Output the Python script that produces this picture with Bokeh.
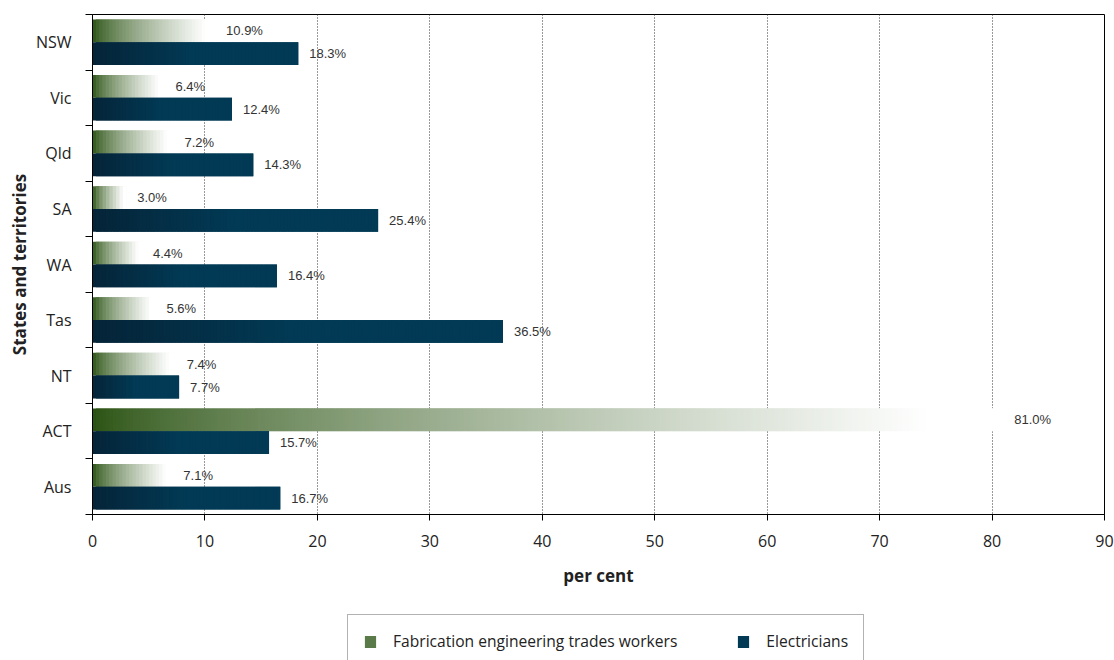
import math
from bokeh.plotting import figure
from bokeh.layouts import column
from bokeh.models import (ColumnDataSource, Range1d, FixedTicker, Legend, LegendItem)
from bokeh.core.properties import value
from bokeh.embed import file_html
from bokeh.resources import INLINE

# ---- data ----
categories = ["NSW", "Vic", "Qld", "SA", "WA", "Tas", "NT", "ACT", "Aus"]
fabrication = [10.9, 6.4, 7.2, 3.0, 4.4, 5.6, 7.4, 81.0, 7.1]
electricians = [18.3, 12.4, 14.3, 25.4, 16.4, 36.5, 7.7, 15.7, 16.7]
x_ticks = [0, 10, 20, 30, 40, 50, 60, 70, 80, 90]
series_names = ["Fabrication engineering trades workers", "Electricians"]

# ---- style ----
FONT = "Open Sans"
LABEL_FONT = "Liberation Sans"
TEXT = "#222222"
GREEN_DARK = (39, 80, 15)
WHITE = (255, 255, 255)
NAVY_DARK = (5, 36, 56)
NAVY = (2, 58, 85)
SEG_W = 0.3          # gradient step width in data units
BAR_H = 0.41
OFF = 0.205


def hexc(c):
    return "#%02x%02x%02x" % tuple(int(round(v)) for v in c)


def mix(a, b, t):
    return tuple(a[k] + (b[k] - a[k]) * t for k in range(3))


def green_color(f):
    t = min(1.0, f / 0.92) ** 0.7
    return hexc(mix(GREEN_DARK, WHITE, t))


def navy_color(f):
    t = min(1.0, f / 0.5)
    return hexc(mix(NAVY_DARK, NAVY, t))


def gradient_source(vals, yoff, colfn):
    # overlapping steps (each reaches to the end of the next one) to avoid seams
    d = dict(left=[], right=[], top=[], bottom=[], color=[], frac=[])
    for i, v in enumerate(vals):
        yc = i + yoff
        n = max(4, int(math.ceil(v / SEG_W)))
        for s in range(n):
            f = (s + 0.5) / n
            d["left"].append(v * s / n)
            d["right"].append(v * min(s + 2, n) / n)
            d["bottom"].append(yc - BAR_H / 2)
            d["top"].append(yc + BAR_H / 2)
            d["color"].append(colfn(f))
            d["frac"].append(f)
    return ColumnDataSource(d)


p = figure(width=1114, height=600, output_backend="svg", toolbar_location=None,
           x_range=Range1d(0, 90), y_range=Range1d(len(categories) - 0.5, -0.5),
           min_border_left=92, min_border_right=10, min_border_top=14,
           min_border_bottom=86)
p.background_fill_color = "white"
p.border_fill_color = "white"
p.outline_line_color = "black"
p.outline_line_width = 1
p.outline_line_alpha = 1

gsrc = gradient_source(fabrication, -OFF, green_color)
esrc = gradient_source(electricians, OFF, navy_color)

gr = p.quad(left="left", right="right", top="top", bottom="bottom", source=gsrc,
            fill_color="color", line_color=None)
er = p.quad(left="left", right="right", top="top", bottom="bottom", source=esrc,
            fill_color="color", line_color=None)

# value labels
lab = ColumnDataSource(dict(
    x=fabrication + electricians,
    y=[i - OFF for i in range(len(categories))] + [i + OFF for i in range(len(categories))],
    text=["%.1f%%" % v for v in fabrication] + ["%.1f%%" % v for v in electricians],
))
p.text(x="x", y="y", text="text", source=lab, x_offset=11, text_baseline="middle",
       text_align="left", text_font=value(LABEL_FONT), text_font_size="13px",
       text_color="#333333")

# x axis
p.xaxis.ticker = FixedTicker(ticks=x_ticks)
p.xaxis.axis_label = "per cent"
p.xaxis.axis_label_text_font = FONT
p.xaxis.axis_label_text_font_style = "bold"
p.xaxis.axis_label_text_font_size = "17px"
p.xaxis.axis_label_text_color = TEXT
p.xaxis.axis_label_standoff = 14
p.xaxis.major_label_text_font = FONT
p.xaxis.major_label_text_font_size = "16px"
p.xaxis.major_label_text_color = TEXT
p.xaxis.major_label_standoff = 14
p.xaxis.major_tick_out = 6
p.xaxis.major_tick_in = 0
p.xaxis.minor_tick_out = 0
p.xaxis.minor_tick_in = 0
p.xaxis.axis_line_color = "black"
p.xaxis.major_tick_line_color = "black"

# y axis
p.yaxis.ticker = FixedTicker(ticks=list(range(len(categories))),
                             minor_ticks=[i - 0.5 for i in range(len(categories) + 1)])
p.yaxis.major_label_overrides = {i: c for i, c in enumerate(categories)}
p.yaxis.axis_label = "States and territories"
p.yaxis.axis_label_text_font = FONT
p.yaxis.axis_label_text_font_style = "bold"
p.yaxis.axis_label_text_font_size = "17px"
p.yaxis.axis_label_text_color = TEXT
p.yaxis.axis_label_standoff = 2
p.yaxis.major_label_text_font = FONT
p.yaxis.major_label_text_font_size = "16px"
p.yaxis.major_label_text_color = TEXT
p.yaxis.major_label_standoff = 14
p.yaxis.major_tick_out = 0
p.yaxis.major_tick_in = 0
p.yaxis.minor_tick_out = 7
p.yaxis.minor_tick_in = 0
p.yaxis.minor_tick_line_color = "black"
p.yaxis.axis_line_color = "black"

# grids
p.xgrid.ticker = FixedTicker(ticks=x_ticks[1:-1])
p.xgrid.grid_line_color = "#333333"
p.xgrid.grid_line_dash = "1 2"
p.xgrid.grid_line_width = 1
p.ygrid.grid_line_color = None

# ---- legend strip (separate figure below the chart; its frame is aligned with the chart's) ----
pl = figure(width=1114, height=60, output_backend="svg", toolbar_location=None,
            x_range=Range1d(-2, -1), y_range=Range1d(-2, -1),
            x_axis_type=None, y_axis_type=None,
            min_border_left=92, min_border_right=10, min_border_top=0, min_border_bottom=0)
pl.outline_line_color = None
pl.grid.visible = False
pl.background_fill_color = "white"
pl.border_fill_color = "white"
# same bar sources, outside the strip's visible ranges: only used for legend swatches
lg_green = pl.quad(left="left", right="right", top="top", bottom="bottom", source=gsrc,
                   fill_color="color", line_color=None)
lg_navy = pl.quad(left="left", right="right", top="top", bottom="bottom", source=esrc,
                  fill_color="color", line_color=None)

g_idx = next(k for k, f in enumerate(gsrc.data["frac"]) if f >= 0.12)
e_idx = next(k for k, f in enumerate(esrc.data["frac"]) if f >= 0.6)

legend = Legend(items=[
    LegendItem(label=series_names[0], renderers=[lg_green], index=g_idx),
    LegendItem(label=series_names[1], renderers=[lg_navy], index=e_idx),
], orientation="horizontal", location=(255, -8))
legend.border_line_color = "#666666"
legend.border_line_width = 1
legend.background_fill_color = "white"
legend.background_fill_alpha = 1
legend.label_text_font = FONT
legend.label_text_font_size = "15.6px"
legend.label_text_color = TEXT
legend.glyph_width = 14
legend.glyph_height = 15
legend.label_standoff = 16
legend.spacing = 59
legend.padding = 15
legend.margin = 0
pl.add_layout(legend)

layout = column(p, pl, spacing=0)
open("out.html", "w").write(file_html(layout, INLINE))
